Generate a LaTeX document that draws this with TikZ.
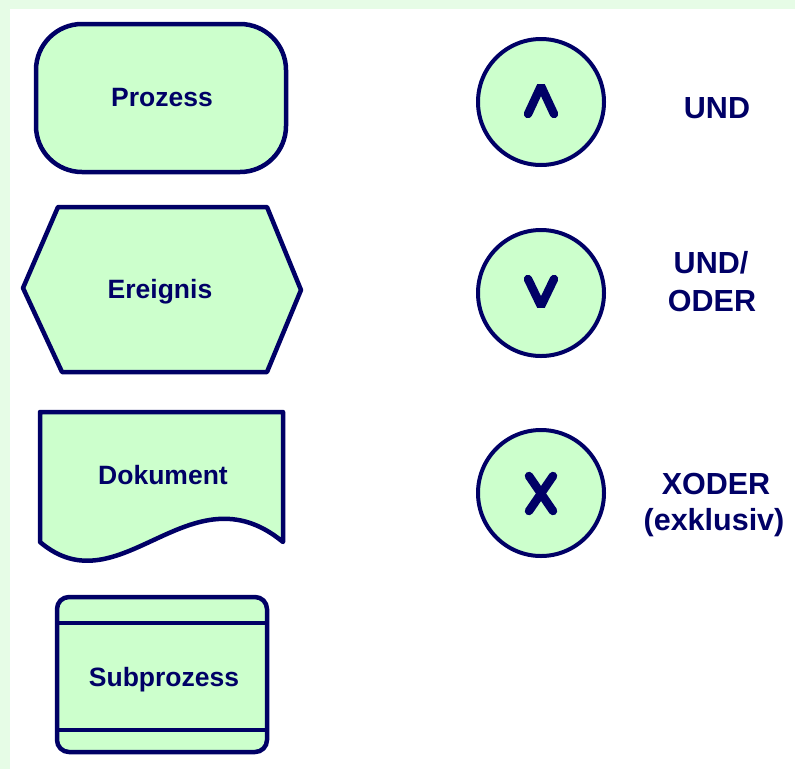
\documentclass[tikz,border=0pt]{standalone}
\usepackage{fontspec}
\setmainfont{Liberation Sans}
\definecolor{navy}{HTML}{000066}
\definecolor{symfill}{HTML}{CCFFCC}
\definecolor{pagerim}{HTML}{E6FCE6}

\begin{document}
\begin{tikzpicture}[x=1pt,y=-1pt,
  shapeline/.style={draw=navy, fill=symfill, line width=4.5pt, line join=round},
  ringline/.style={draw=navy, fill=symfill, line width=4pt},
  opline/.style={draw=navy, line width=8.5pt, line cap=round, line join=bevel},
  leftlabel/.style={text=navy, inner sep=0pt, anchor=base, font=\fontsize{26.5}{30}\selectfont\bfseries},
  rightlabel/.style={text=navy, inner sep=0pt, anchor=base, font=\fontsize{30.5}{36}\selectfont\bfseries}]
\useasboundingbox (0,0) rectangle (795,769);
% page background with light green rim on top and left
\fill[white] (0,0) rectangle (795,769);
\fill[pagerim] (0,0) rectangle (795,9);
\fill[pagerim] (0,0) rectangle (10,769);

% Prozess: rounded rectangle
\draw[shapeline, rounded corners=46pt] (36,24) rectangle (286,172);
\node[leftlabel] (prozess) at (162,106) {Prozess};

% Ereignis: hexagon
\draw[shapeline] (58,207) -- (267,207) -- (301,290) -- (267,372) -- (62,372) -- (23,288) -- cycle;
\node[leftlabel] (ereignis) at (160,298) {Ereignis};

% Dokument: sheet with wavy lower edge
\draw[shapeline] (40,542) -- (40,412) -- (283,412) -- (283,542)
  .. controls (190,465) and (120,610) .. (40,542) -- cycle;
\node[leftlabel] (dokument) at (163,484) {Dokument};

% Subprozess: rounded box with two bands
\draw[shapeline, rounded corners=12pt] (57,597) rectangle (267,752);
\draw[navy, line width=4.5pt] (57,623) -- (267,623);
\draw[navy, line width=4.5pt] (57,730) -- (267,730);
\node[leftlabel] (subprozess) at (164,686) {Subprozess};

% connector circles
\draw[ringline] (541,102) circle[radius=63];
\draw[opline] (528,114) -- (541,86) -- (554,114);
\node[rightlabel] (und) at (717,118) {UND};

\draw[ringline] (541,293) circle[radius=63];
\draw[opline] (528,279) -- (541,306) -- (554,279);
\node[rightlabel] (undoderA) at (711,273) {UND/};
\node[rightlabel] (undoderB) at (712,311) {ODER};

\draw[ringline] (541,493) circle[radius=63];
\draw[opline] (529,476) -- (553,511);
\draw[opline] (553,476) -- (529,511);
\node[rightlabel] (xoderA) at (716,494) {XODER};
\node[rightlabel] (xoderB) at (714,530) {(exklusiv)};
\end{tikzpicture}
\end{document}
